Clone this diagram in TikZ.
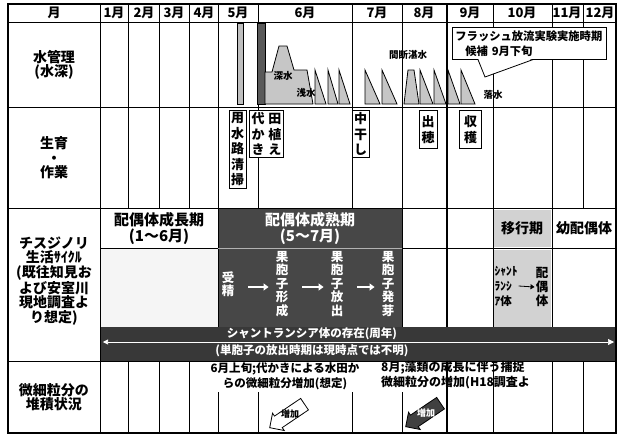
\documentclass[tikz,border=0pt]{standalone}
\usepackage{fontspec}
\setmainfont{Noto Sans CJK JP}
\usetikzlibrary{shapes.arrows}
\usetikzlibrary{arrows.meta}
\tikzset{
every node/.style={ % all texts of the table
inner sep=1pt,
font=\bfseries\fontsize{13}{15}\selectfont},
rowlabel/.style={align=center,
font=\bfseries\fontsize{14}{14.5}\selectfont},
workbox/.style={ % boxes with vertical text
draw, thick, fill=white, anchor=north, align=center,
inner sep=2pt, font=\bfseries\fontsize{13}{15.5}\selectfont},
water/.style={draw, thick, fill=gray!45},
wlabel/.style={inner sep=0pt,
font=\bfseries\fontsize{9.5}{11}\selectfont},
lifetext/.style={text=white, align=center,
font=\bfseries\fontsize{12.5}{13.5}\selectfont},
lifearrow/.style={draw=white, line width=1.8pt,
-{Triangle[length=5pt,width=7pt]},
shorten <=13pt, shorten >=6pt},
gridline/.style={semithick},
notetext/.style={font=\bfseries\fontsize{11.5}{15}\selectfont},
zouka/.style={single arrow, draw, thick, rotate=34,
shape border rotate=180, single arrow head extend=3.5pt,
minimum height=42pt, inner sep=2pt,
font=\bfseries\fontsize{9.5}{10}\selectfont},
zoukatext/.style={inner sep=0pt,
font=\bfseries\fontsize{9}{10}\selectfont}}

\begin{document}
\begin{tikzpicture}[x=1pt, y=-1pt]
\useasboundingbox (0,0) rectangle (622,437);

% fills of the life cycle row
\fill[gray!8] (100,248) rectangle (218,327);
\filldraw[fill=black!72, draw=black, thick] (218,208) rectangle (402,327);
\draw[gray!60] (218,248) -- (402,248);
\fill[gray!35] (494,210) rectangle (551,247);
\fill[gray!35] (494,250) rectangle (551,327);
\fill[black!78] (100,327) rectangle (616,361);

% table lines
\draw[very thick] (8,4) rectangle (616,433);
\draw[thick] (8,22) -- (616,22);
\draw[thick] (8,107) -- (616,107);
\draw[thick] (8,208) -- (616,208);
\draw[thick] (8,361) -- (616,361);
\draw[gridline] (100,248) -- (218,248) (402,248) -- (616,248);
\draw[thick] (100,4) -- (100,433);
\draw[gridline] (128,4) -- (128,208) (128,361) -- (128,433);
\draw[gridline] (159,4) -- (159,208) (159,361) -- (159,433);
\draw[gridline] (189,4) -- (189,208) (189,361) -- (189,433);
\draw[thick] (218,4) -- (218,208) (218,392) -- (218,433);
\draw[gridline] (258,4) -- (258,208) (258,392) -- (258,433);
\draw[thick] (352,4) -- (352,208) (352,392) -- (352,433);
\draw[gridline] (402,4) -- (402,208) (402,392) -- (402,433);
\draw[very thick] (447,4) -- (447,327) (447,361) -- (447,433);
\draw[thick] (493,4) -- (493,327) (493,361) -- (493,433);
\draw[thick] (552,4) -- (552,327) (552,361) -- (552,433);
\draw[gridline] (583,4) -- (583,208) (583,361) -- (583,433);

% header
\node (tuki) at (54,13) {月};
\node (m1) at (114,13) {1月};
\node (m2) at (144,13) {2月};
\node (m3) at (174,13) {3月};
\node (m4) at (204,13) {4月};
\node (m5) at (238,13) {5月};
\node (m6) at (305,13) {6月};
\node (m7) at (377,13) {7月};
\node (m8) at (424,13) {8月};
\node (m9) at (470,13) {9月};
\node (m10) at (522,13) {10月};
\node (m11) at (567,13) {11月};
\node (m12) at (600,13) {12月};

% row labels
\node[rowlabel] (mizu) at (54,65) {水管理\\(水深)};
\node[rowlabel] (sakugyo) at (54,158) {生育\\・\\作業};
\node[rowlabel] (chisuji) at (54,281) {チスジノリ\\生活ｻｲｸﾙ\\(既往知見お\\よび安室川\\現地調査よ\\り想定)};
\node[rowlabel] (bisai) at (54,397) {微細粒分の\\堆積状況};

% water depth
\fill[gray!50] (237,23) rectangle (243,104);
\draw (237,23) rectangle (243,104);
\filldraw[fill=black!65] (257,23) rectangle (265,104);
\filldraw[water] (265,104) -- (265,72) -- (272,72) -- (279,46) -- (287,46) -- (294,70) -- (307,70) -- (313,104) -- cycle;
\filldraw[water] (315,104) -- (315,70) -- (326,104) -- cycle;
\filldraw[water] (328,104) -- (328,70) -- (338,104) -- cycle;
\filldraw[water] (339,104) -- (339,70) -- (350,104) -- cycle;
\filldraw[water] (365,104) -- (365,70) -- (380,104) -- cycle;
\filldraw[water] (382,104) -- (382,70) -- (397,104) -- cycle;
\filldraw[water] (404,104) -- (408,70) -- (414,70) -- (419,104) -- cycle;
\filldraw[water] (420,104) -- (420,70) -- (433,104) -- cycle;
\filldraw[water] (434,104) -- (434,70) -- (446,104) -- cycle;
\filldraw[water] (448,104) -- (448,70) -- (460,104) -- cycle;
\filldraw[water] (461,104) -- (461,70) -- (475,104) -- cycle;
\node[wlabel] (shinsui) at (283,76) {深水};
\node[wlabel] (sensui) at (306,93) {浅水};
\node[wlabel] (kandan) at (408,55) {間断湛水};
\node[wlabel] (rakusui) at (493,95) {落水};

% flush test callout
\node[draw, thick, fill=white, anchor=north west, align=left, text width=148pt,
inner sep=3pt, font=\bfseries\fontsize{11.3}{15}\selectfont] (flush) at (452,27)
{フラッシュ放流実験実施時期\\\hspace*{10pt}候補 9月下旬};
\coordinate (tip) at (485,77);
\fill[white] ([xshift=26pt,yshift=1pt]flush.south west) -- (tip) -- ([xshift=81pt,yshift=1pt]flush.south west) -- cycle;
\draw[thick] ([xshift=26pt]flush.south west) -- (tip) -- ([xshift=81pt]flush.south west);

% growth and work
\node[workbox] (seisou) at (237.5,110) {用\\水\\路\\清\\掃};
\node[workbox] (taue) at (266.5,110) {代\hspace{4pt}田\\か\hspace{4pt}植\\き\hspace{4pt}え};
\node[workbox] (nakaboshi) at (360.5,110) {中\\干\\し};
\node[workbox, minimum height=38pt, minimum width=18pt] (shussui) at (428,110) {出\\穂};
\node[workbox, minimum height=38pt, minimum width=22pt] (shukaku) at (470.5,110) {収\\穫};

% life cycle
\node[align=center, font=\bfseries\fontsize{15}{16}\selectfont] (seicho) at (159,228) {配偶体成長期\\(1～6月)};
\node[lifetext, font=\bfseries\fontsize{15}{16}\selectfont] (seijuku) at (310,228) {配偶体成熟期\\(5～7月)};
\node[lifetext] (jusei) at (228,284) {受\\精};
\node[lifetext] (keisei) at (282,284) {果\\胞\\子\\形\\成};
\node[lifetext] (housyutsu) at (337,284) {果\\胞\\子\\放\\出};
\node[lifetext] (hatsuga) at (388,284) {果\\胞\\子\\発\\芽};
\draw[lifearrow] ([yshift=-3pt]jusei.east) -- ([yshift=-3pt]keisei.west);
\draw[lifearrow] ([yshift=-3pt]keisei.east) -- ([yshift=-3pt]housyutsu.west);
\draw[lifearrow] ([yshift=-3pt]housyutsu.east) -- ([yshift=-3pt]hatsuga.west);
\node[font=\bfseries\fontsize{14}{15}\selectfont] (ikou) at (522,228) {移行期};
\node[font=\bfseries\fontsize{14}{15}\selectfont] (youhaigu) at (584,228) {幼配偶体};
\node[align=left, font=\bfseries\fontsize{11.5}{15}\selectfont] (shant) at (506,286) {ｼｬﾝﾄ\\ﾗﾝｼ\\ｱ体};
\node[align=center, font=\bfseries\fontsize{12.5}{14}\selectfont] (haigu) at (542,287) {配\\偶\\体};
\draw[thick, -{Triangle[length=4pt,width=5pt]}] (shant.east) -- (haigu.west);

% shantransia bar
\node[text=white, font=\bfseries\fontsize{11.5}{13}\selectfont] (ari) at (312,334) {シャントランシア体の存在(周年)};
\node[text=white, font=\bfseries\fontsize{11.5}{13}\selectfont] (fumei) at (312,351) {(単胞子の放出時期は現時点では不明)};
\coordinate (yearL) at (103,342);
\coordinate (yearR) at (614,342);
\draw[white, semithick, {Triangle[length=5pt,width=5pt]}-{Triangle[length=6pt,width=6pt]}] (yearL) -- (yearR);

% fine sediment
\node[notetext, align=center] (shiro) at (285,376) {6月上旬;代かきによる水田か\\らの微細粒分増加(想定)};
\node[notetext, align=left, anchor=west, font=\bfseries\fontsize{12}{15}\selectfont] (sorui) at (380,375) {8月;藻類の成長に伴う捕捉\\微細粒分の増加(H18調査よ};
\node[zouka, fill=white] (zouka1) at (290,414) {\phantom{増加}};
\node[zoukatext] (zouka1t) at (zouka1) {増加};
\node[zouka, fill=black!75] (zouka2) at (426,413) {\phantom{増加}};
\node[zoukatext, text=white] (zouka2t) at (zouka2) {増加};
\end{tikzpicture}
\end{document}
